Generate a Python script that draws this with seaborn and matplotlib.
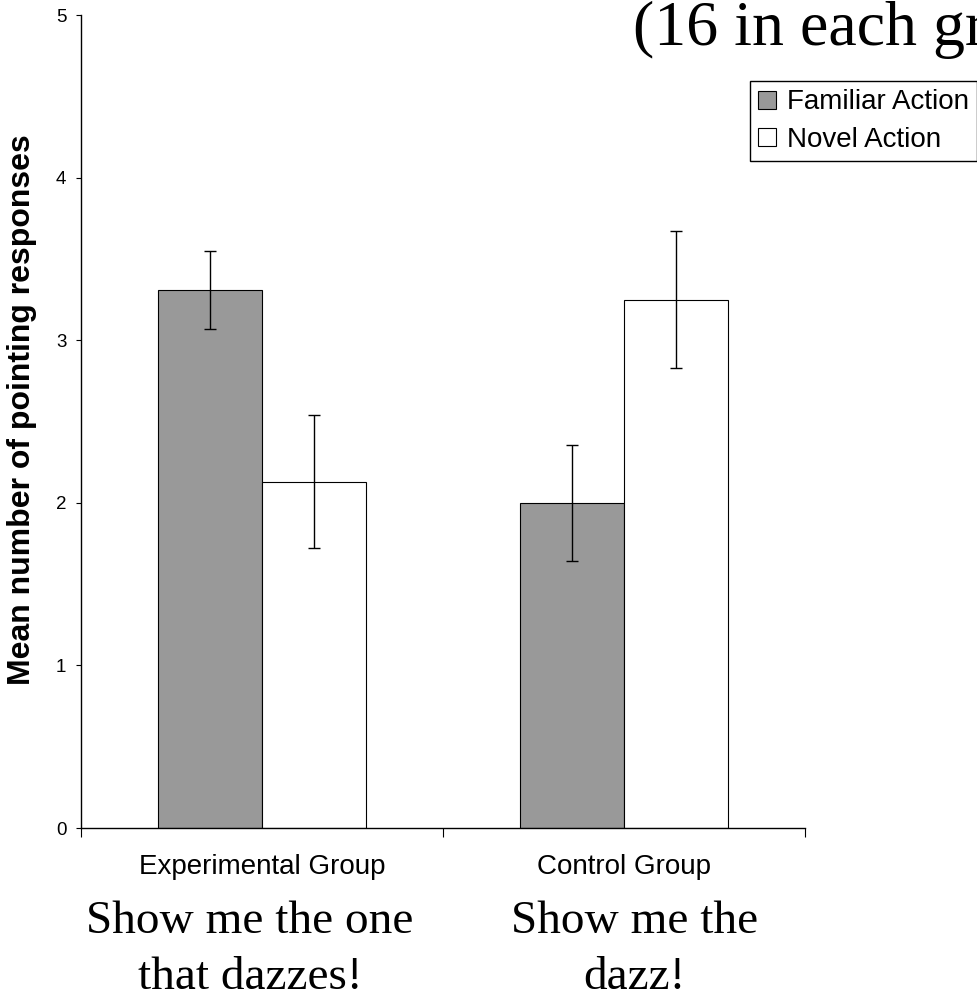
import matplotlib
matplotlib.use("Agg")
import matplotlib.pyplot as plt
import matplotlib.transforms as mtransforms
from matplotlib.patches import Patch
import seaborn as sns
import pandas as pd

groups = ["Experimental Group", "Control Group"]
actions = ["Familiar Action", "Novel Action"]
familiar_means = [3.31, 2.00]
novel_means = [2.13, 3.25]
familiar_err = [0.24, 0.355]
novel_err = [0.41, 0.42]
prompts = [["Show me the one", "that dazzes!"], ["Show me the", "dazz!"]]
yticks = [0, 1, 2, 3, 4, 5]
colors = ["#999999", "white"]

sns.set_style("white")
plt.rcParams['font.family'] = ['Liberation Sans', 'DejaVu Sans']
plt.rcParams['text.color'] = 'black'
plt.rcParams['axes.labelcolor'] = 'black'
plt.rcParams['xtick.color'] = 'black'
plt.rcParams['ytick.color'] = 'black'
serif = ['Liberation Serif', 'DejaVu Serif']

df = pd.DataFrame({
    'group': groups * 2,
    'action': [actions[0]] * len(groups) + [actions[1]] * len(groups),
    'mean': familiar_means + novel_means,
})
errs = {actions[0]: familiar_err, actions[1]: novel_err}

fig = plt.figure(figsize=(9.77, 9.97), dpi=100)
ax = fig.add_axes([81 / 977, 169 / 997, 724 / 977, 813 / 997])

sns.barplot(data=df, x='group', y='mean', hue='action', order=groups, hue_order=actions,
            palette=colors, edgecolor='black', linewidth=0.8, width=0.575,
            errorbar=None, legend=False, saturation=1, ax=ax)

# error bars on top of each bar
bar_sets = list(ax.containers[:2])
for container, action in zip(bar_sets, actions):
    for bar in container:
        xc = bar.get_x() + bar.get_width() / 2
        gi = int(round(xc))
        ax.errorbar(xc, bar.get_height(), yerr=errs[action][gi], fmt='none',
                    ecolor='black', elinewidth=1, capsize=4, capthick=1)

ax.set_ylim(0, 5)
ax.set_yticks(yticks)
ax.set_xlim(-0.5, 1.5)
ax.set_xticks([-0.5, 0.5, 1.5])
ax.set_xticklabels([])
ax.set_xticks(range(len(groups)), minor=True)
ax.set_xticklabels(groups, minor=True)
ax.set_xlabel('')
ax.set_ylabel('')

ax.tick_params(axis='x', which='major', bottom=True, length=6.5, width=0.8, direction='out')
ax.tick_params(axis='x', which='minor', bottom=True, length=0, pad=19, labelsize=20)
ax.tick_params(axis='y', left=True, length=3.5, width=0.8, pad=7, labelsize=13.5)

sns.despine(ax=ax)
for s in ['left', 'bottom']:
    ax.spines[s].set_color('black')
    ax.spines[s].set_linewidth(1)

fig.text(22 / 977, 1 - 410 / 997, 'Mean number of pointing responses', rotation=90,
         fontsize=23, fontweight='bold', ha='center', va='center')

fig.text(633 / 977, 1 - 45 / 997, '(16 in each group)', family=serif, fontsize=46,
         ha='left', va='baseline')

handles = [Patch(facecolor=c, edgecolor='black', linewidth=0.8) for c in colors]
fig.legend(handles, actions, loc='upper left', bbox_to_anchor=(750 / 977, 1 - 81 / 997),
           borderaxespad=0, fontsize=20, frameon=True, fancybox=False, edgecolor='black',
           framealpha=1, handlelength=0.62, handleheight=0.62, handletextpad=0.4,
           borderpad=0.3, labelspacing=0.42)

trans = mtransforms.blended_transform_factory(ax.transData, fig.transFigure)
nudge = [-0.033, 0.028]
baselines = [933, 989]
for i, lines in enumerate(prompts):
    for line, yb in zip(lines, baselines):
        ax.text(i + nudge[i], 1 - yb / 997, line, transform=trans, family=serif,
                fontsize=34, ha='center', va='baseline', clip_on=False)

fig.savefig('out.png', dpi=100)
